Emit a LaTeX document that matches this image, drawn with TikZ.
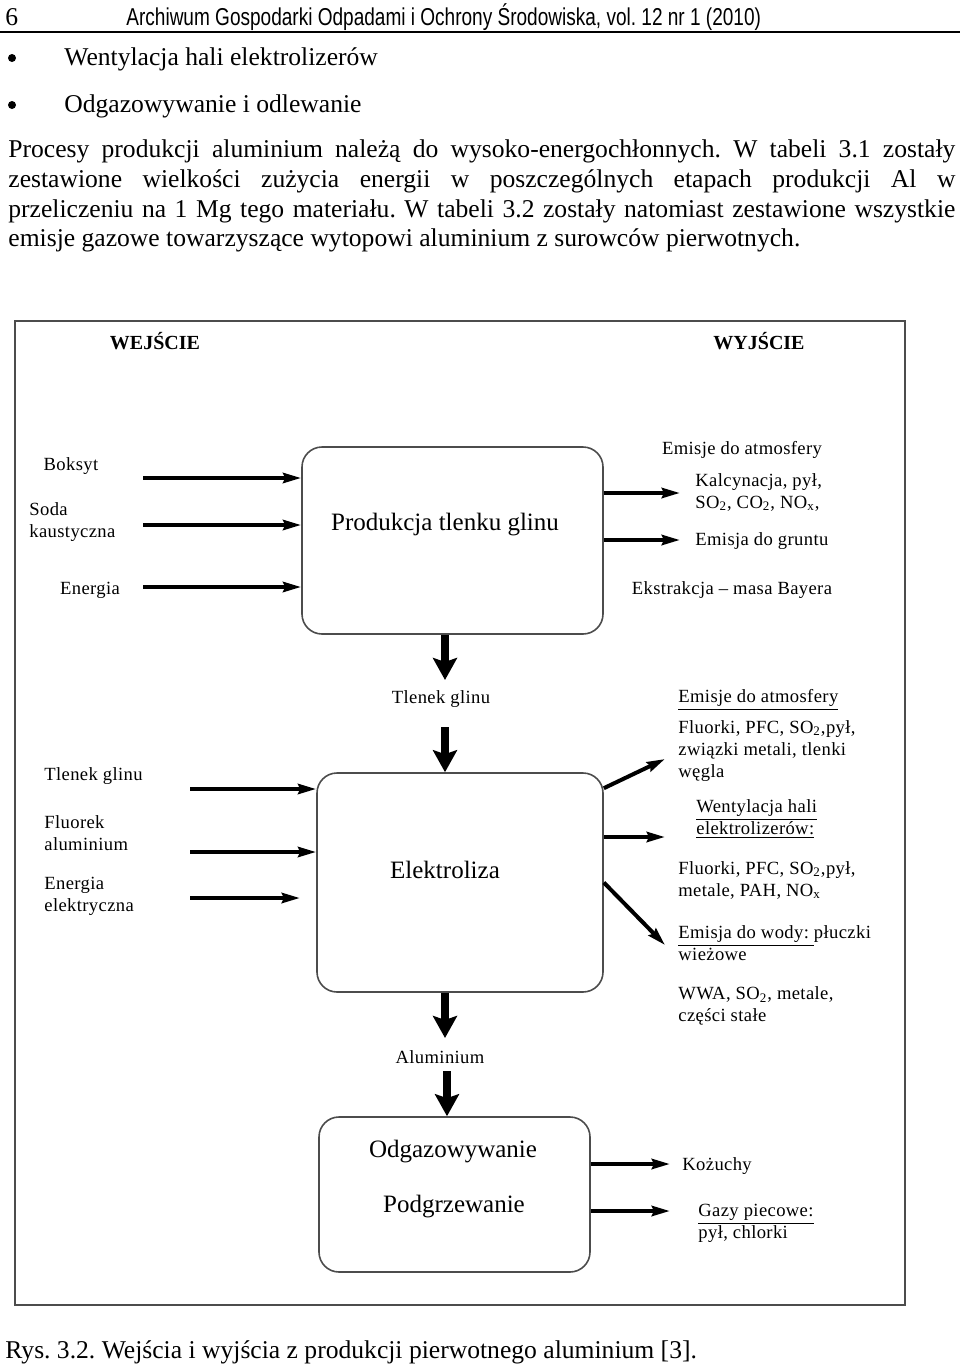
\documentclass[tikz,border=0pt]{standalone}
\usepackage{fontspec}
\setmainfont{Liberation Serif}
\newfontfamily\hdrfont[FakeStretch=0.78]{Liberation Sans}
\newfontfamily\diafont[LetterSpace=2]{Liberation Serif}
\usetikzlibrary{arrows.meta}
\frenchspacing
\tikzset{
	tekst/.style={inner sep=0pt, font=\fontsize{12.8}{15}\selectfont},
	naglowek/.style={inner sep=0pt, font=\hdrfont\fontsize{12.2}{14}\selectfont},
	etykieta/.style={
		inner sep=0pt,
		align=left,
		font=\diafont\fontsize{9.3}{11}\selectfont},
	tytul/.style={inner sep=0pt, font=\bfseries\fontsize{10}{12}\selectfont},
	proces/.style={
		rectangle,
		rounded corners=10pt,
		% fill=black!10,
		draw=black!70, line width=0.8pt},
	procestekst/.style={inner sep=0pt, font=\fontsize{12.5}{15}\selectfont},
	strzalka/.style={-{Stealth[length=9pt,width=5pt,inset=1pt]}, line width=2pt},
	gruba/.style={-{Stealth[length=11pt,width=12pt,inset=2pt]}, line width=4pt},
}

\begin{document}
\begin{tikzpicture}[x=0.5pt, y=-0.5pt]
	\useasboundingbox (0,0) rectangle (960,1366);
	% naglowek strony
	\node[tekst, anchor=base west] (nr) at (5,25) {6};
	\node[naglowek, anchor=base west] (czas) at (126,25) {Archiwum Gospodarki Odpadami i Ochrony Środowiska, vol. 12 nr 1 (2010)};
	\draw[line width=1.1pt] (0,32) -- (960,32);
	% wypunktowanie
	\fill (12,58) circle (2pt);
	\fill (12,105) circle (2pt);
	\node[tekst, anchor=base west] (pkt1) at (64,65) {Wentylacja hali elektrolizerów};
	\node[tekst, anchor=base west] (pkt2) at (64,112) {Odgazowywanie i odlewanie};
	% akapit
	\node[tekst, anchor=base west] (w1) at (8,157) {\makebox[473.5pt][s]{Procesy produkcji aluminium należą do wysoko-energochłonnych. W tabeli 3.1 zostały}};
	\node[tekst, anchor=base west] (w2) at (8,187) {\makebox[473.5pt][s]{zestawione wielkości zużycia energii w poszczególnych etapach produkcji Al w}};
	\node[tekst, anchor=base west] (w3) at (8,217) {\makebox[473.5pt][s]{przeliczeniu na 1 Mg tego materiału. W tabeli 3.2 zostały natomiast zestawione wszystkie}};
	\node[tekst, anchor=base west] (w4) at (8,246) {emisje gazowe towarzyszące wytopowi aluminium z surowców pierwotnych.};

	% ramka rysunku
	\draw[black!70, line width=0.8pt] (15,321) rectangle (905,1305);
	\node[tytul] (wej) at (155,341) {WEJŚCIE};
	\node[tytul] (wyj) at (759,341) {WYJŚCIE};

	% procesy
	\node[proces, minimum width=150.5pt, minimum height=93.5pt] (tlenek) at (452.5,540.5) {};
	\node[procestekst] (tlenektxt) at (445,525) {Produkcja tlenku glinu};
	\node[proces, minimum width=143pt, minimum height=109.5pt] (elektro) at (460,882.5) {};
	\node[procestekst] (elektrotxt) at (445,870) {Elektroliza};
	\node[proces, minimum width=135.5pt, minimum height=77.5pt] (odgaz) at (454.5,1194.5) {};
	\node[procestekst] (odgaztxt) at (453,1152) {Odgazowywanie};
	\node[procestekst] (podgrtxt) at (454,1207) {Podgrzewanie};

	% wejscia - tlenek glinu
	\node[etykieta] (boksyt) at (71,466) {Boksyt};
	\node[etykieta, anchor=west] (soda) at (29,522.5) {Soda\\kaustyczna};
	\node[etykieta] (energia) at (90,590) {Energia};
	\coordinate (we1) at (143,478);
	\coordinate (we2) at (143,525);
	\coordinate (we3) at (143,587);
	\draw[strzalka] (we1) -- (we1 -| tlenek.west);
	\draw[strzalka] (we2) -- (we2 -| tlenek.west);
	\draw[strzalka] (we3) -- (we3 -| tlenek.west);

	% wyjscia - tlenek glinu
	\node[etykieta] (atm1) at (742,450) {Emisje do atmosfery};
	\node[etykieta, anchor=west] (kalc) at (695,492) {Kalcynacja, pył,\\SO\textsubscript{2}, CO\textsubscript{2}, NO\textsubscript{x},};
	\node[etykieta, anchor=west] (grunt) at (695,541) {Emisja do gruntu};
	\node[etykieta] (bayer) at (732,590) {Ekstrakcja – masa Bayera};
	\coordinate (wy1) at (680,493);
	\coordinate (wy2) at (680,540);
	\draw[strzalka] (wy1 -| tlenek.east) -- (wy1);
	\draw[strzalka] (wy2 -| tlenek.east) -- (wy2);

	% tlenek glinu -> elektroliza
	\node[etykieta] (tg) at (441,699) {Tlenek glinu};
	\coordinate (d1) at (445,680);
	\coordinate (d2) at (445,727);
	\draw[gruba] (d1 |- tlenek.south) -- (d1);
	\draw[gruba] (d2) -- (d2 |- elektro.north);

	% wejscia - elektroliza
	\node[etykieta, anchor=west] (tg2) at (44,776) {Tlenek glinu};
	\node[etykieta, anchor=west] (fluorek) at (44,833.5) {Fluorek\\aluminium};
	\node[etykieta, anchor=west] (enel) at (44,896.5) {Energia\\elektryczna};
	\coordinate (we4) at (190,789);
	\coordinate (we5) at (190,852);
	\coordinate (we6) at (190,898);
	\coordinate (we6k) at (300,898);
	\draw[strzalka] (we4) -- (we4 -| elektro.west);
	\draw[strzalka] (we5) -- (we5 -| elektro.west);
	\draw[strzalka] (we6) -- (we6k);

	% wyjscia - elektroliza
	\node[etykieta, anchor=west] (atm2) at (678,700) {\underline{Emisje do atmosfery}};
	\node[etykieta, anchor=west] (fluorki1) at (678,751) {Fluorki, PFC, SO\textsubscript{2},pył,\\związki metali, tlenki\\węgla};
	\node[etykieta, anchor=west] (went) at (696,819) {\underline{Wentylacja hali}\\\underline{elektrolizerów:}};
	\node[etykieta, anchor=west] (fluorki2) at (678,880.5) {Fluorki, PFC, SO\textsubscript{2},pył,\\metale, PAH, NO\textsubscript{x}};
	\node[etykieta, anchor=west] (woda) at (678,943.5) {\underline{Emisja do wody: }płuczki\\wieżowe};
	\node[etykieta, anchor=west] (wwa) at (678,1006) {WWA, SO\textsubscript{2}, metale,\\części stałe};
	\coordinate (wy3) at (665,759);
	\coordinate (wy4) at (665,837);
	\coordinate (wy5) at (665,945);
	\draw[strzalka] ([yshift=-8pt]elektro.north east) -- (wy3);
	\draw[strzalka] (wy4 -| elektro.east) -- (wy4);
	\draw[strzalka] (elektro.east) -- (wy5);

	% elektroliza -> odgazowywanie
	\node[etykieta] (alu) at (440,1057) {Aluminium};
	\coordinate (d3) at (445,1038);
	\coordinate (d4) at (447,1071);
	\draw[gruba] (d3 |- elektro.south) -- (d3);
	\draw[gruba] (d4) -- (d4 |- odgaz.north);

	% wyjscia - odgazowywanie
	\node[etykieta, anchor=west] (kozuchy) at (682,1166) {Kożuchy};
	\node[etykieta, anchor=west] (gazy) at (698,1223.5) {\underline{Gazy piecowe:}\\pył, chlorki};
	\coordinate (wy6) at (670,1164);
	\coordinate (wy7) at (670,1211);
	\draw[strzalka] (wy6 -| odgaz.east) -- (wy6);
	\draw[strzalka] (wy7 -| odgaz.east) -- (wy7);

	% podpis
	\node[tekst, anchor=base west] (podpis) at (5,1358) {Rys. 3.2. Wejścia i wyjścia z produkcji pierwotnego aluminium [3].};
\end{tikzpicture}
\end{document}
